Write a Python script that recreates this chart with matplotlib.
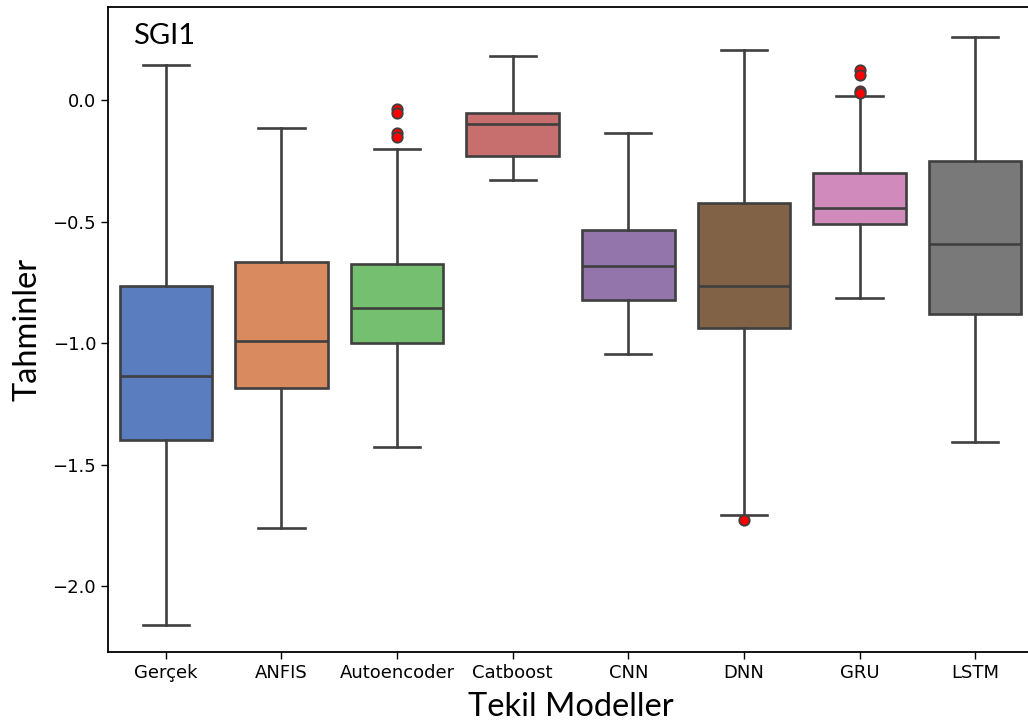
import matplotlib
matplotlib.use("Agg")
import matplotlib.pyplot as plt
import colorsys
import matplotlib.colors as mcolors

categories = ["Gerçek", "ANFIS", "Autoencoder", "Catboost", "CNN", "DNN", "GRU", "LSTM"]
whisker_low = [-2.161, -1.760, -1.426, -0.326, -1.045, -1.707, -0.814, -1.405]
q1 = [-1.397, -1.186, -1.000, -0.227, -0.822, -0.938, -0.508, -0.880]
median = [-1.136, -0.992, -0.855, -0.095, -0.682, -0.764, -0.442, -0.591]
q3 = [-0.764, -0.665, -0.674, -0.050, -0.533, -0.421, -0.298, -0.248]
whisker_high = [0.145, -0.112, -0.202, 0.182, -0.132, 0.207, 0.017, 0.260]
outliers = [[], [], [-0.035, -0.050, -0.135, -0.150], [], [], [-1.727], [0.124, 0.103, 0.041, 0.029], []]

muted = ["#4878d0", "#ee854a", "#6acc64", "#d65f5f", "#956cb4", "#8c613c", "#dc7ec0", "#797979"]

def desaturate(c, prop=0.75):
    r, g, b = mcolors.to_rgb(c)
    h, l, s = colorsys.rgb_to_hls(r, g, b)
    return colorsys.hls_to_rgb(h, l, s * prop)

colors = [desaturate(c) for c in muted]

plt.rcParams["font.family"] = ["DejaVu Sans"]

W, H = 1028, 727
fig = plt.figure(figsize=(W / 100, H / 100), dpi=100)
ax = fig.add_axes([108 / W, (H - 652) / H, (1033 - 108) / W, (652 - 7) / H])

stats = []
for i, name in enumerate(categories):
    stats.append(dict(label=name, whislo=whisker_low[i], q1=q1[i], med=median[i],
                      q3=q3[i], whishi=whisker_high[i], fliers=outliers[i]))

gray = "#3f3f3f"
lw = 1.9
bp = ax.bxp(stats, positions=range(len(categories)), widths=0.8, patch_artist=True,
            boxprops=dict(edgecolor=gray, linewidth=lw),
            medianprops=dict(color=gray, linewidth=lw),
            whiskerprops=dict(color=gray, linewidth=lw),
            capprops=dict(color=gray, linewidth=lw),
            flierprops=dict(marker="o", markerfacecolor="red", markeredgecolor=gray,
                            markersize=7.5, markeredgewidth=1.3))
for patch, c in zip(bp["boxes"], colors):
    patch.set_facecolor(c)

ax.set_xlim(-0.5, len(categories) - 0.5)
ax.set_ylim(-2.272, 0.385)
ax.set_yticks([0.0, -0.5, -1.0, -1.5, -2.0])
ax.set_xticks(range(len(categories)))
ax.set_xticklabels(categories)
ax.tick_params(axis="both", labelsize=13, length=5, width=1)
for s in ax.spines.values():
    s.set_linewidth(1.3)
    s.set_color("black")

ax.set_ylabel("Tahminler", family="Lato", fontsize=23.5, labelpad=7)
ax.set_xlabel("Tekil Modeller", family="Lato", fontsize=23.5, labelpad=7)
ax.text(0.027, 0.975, "SGI1", transform=ax.transAxes, family="Lato", fontsize=21,
        va="top", ha="left")

fig.savefig("out.png", dpi=100)
